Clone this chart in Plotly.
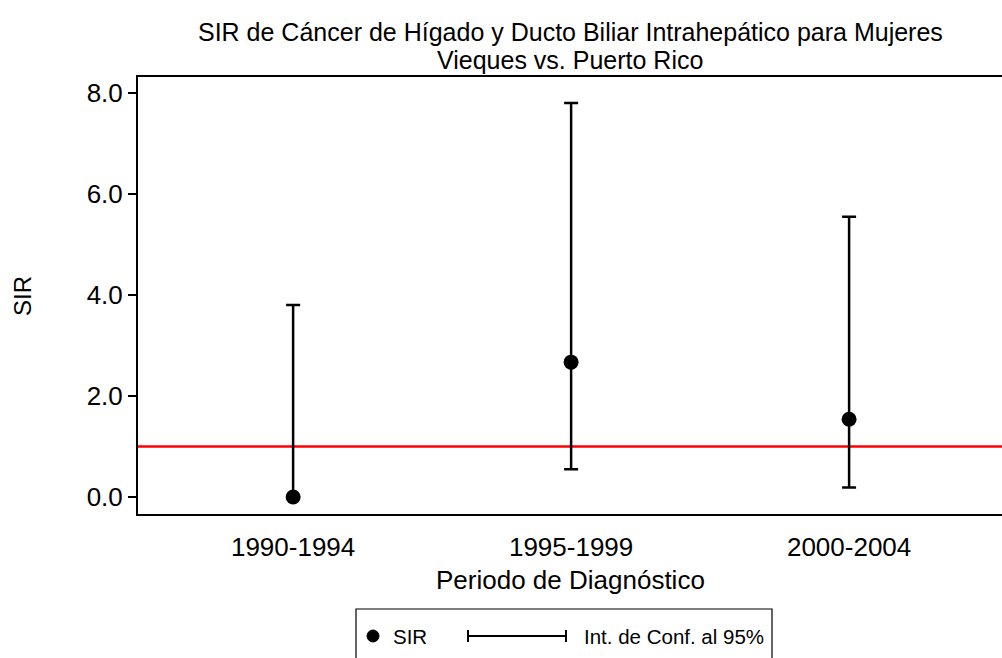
import plotly.graph_objects as go

# SIR por periodo de diagnóstico, con intervalos de confianza al 95%
periodos = ["1990-1994", "1995-1999", "2000-2004"]
sir = [0.0, 2.67, 1.54]
ic_inferior = [0.0, 0.55, 0.19]
ic_superior = [3.80, 7.80, 5.55]
referencia = 1.0

y_ticks = [0, 2, 4, 6, 8]
y_tick_text = ["0.0", "2.0", "4.0", "6.0", "8.0"]

FONT = "Liberation Sans, Arial, Helvetica, sans-serif"
W, H = 1002, 658
L, R, T, B = 138, 0, 77, 144
PW, PH = W - L - R, H - T - B


def px(x):
    return (x - L) / PW


def py(y):
    return (H - B - y) / PH


fig = go.Figure()

fig.add_trace(go.Scatter(
    x=periodos,
    y=sir,
    mode="markers",
    marker=dict(color="black", size=15),
    error_y=dict(
        type="data",
        symmetric=False,
        array=[u - s for u, s in zip(ic_superior, sir)],
        arrayminus=[s - l for s, l in zip(sir, ic_inferior)],
        color="black",
        thickness=2.5,
        width=7,
    ),
    showlegend=False,
))

shapes = [
    # línea de referencia SIR = 1
    dict(type="line", xref="paper", yref="y", x0=0, x1=1, y0=referencia, y1=referencia,
         line=dict(color="#ff0000", width=2.5), layer="below"),
    # recuadro de la leyenda
    dict(type="rect", xref="paper", yref="paper", x0=px(356), x1=px(772), y0=py(609), y1=py(664),
         line=dict(color="black", width=1.2), fillcolor="rgba(0,0,0,0)"),
    # símbolo del punto
    dict(type="circle", xref="paper", yref="paper", x0=px(367), x1=px(379), y0=py(630), y1=py(642),
         line=dict(color="black", width=1), fillcolor="black"),
    # símbolo del intervalo
    dict(type="line", xref="paper", yref="paper", x0=px(467), x1=px(567), y0=py(636), y1=py(636),
         line=dict(color="black", width=2)),
    dict(type="line", xref="paper", yref="paper", x0=px(468), x1=px(468), y0=py(630), y1=py(642),
         line=dict(color="black", width=2)),
    dict(type="line", xref="paper", yref="paper", x0=px(566), x1=px(566), y0=py(630), y1=py(642),
         line=dict(color="black", width=2)),
]

annotations = [
    dict(text="SIR de Cáncer de Hígado y Ducto Biliar Intrahepático para Mujeres",
         xref="paper", yref="paper", x=0.5, y=py(32), xanchor="center", yanchor="middle",
         showarrow=False, font=dict(size=25, color="black", family=FONT)),
    dict(text="Vieques vs. Puerto Rico",
         xref="paper", yref="paper", x=0.5, y=py(60), xanchor="center", yanchor="middle",
         showarrow=False, font=dict(size=25, color="black", family=FONT)),
    dict(text="Periodo de Diagnóstico",
         xref="paper", yref="paper", x=0.5, y=py(580), xanchor="center", yanchor="middle",
         showarrow=False, font=dict(size=26, color="black", family=FONT)),
    dict(text="SIR", textangle=-90,
         xref="paper", yref="paper", x=px(22), y=py(296), xanchor="center", yanchor="middle",
         showarrow=False, font=dict(size=24, color="black", family=FONT)),
    dict(text="SIR",
         xref="paper", yref="paper", x=px(391), y=py(636), xanchor="left", yanchor="middle",
         showarrow=False, font=dict(size=20.5, color="black", family=FONT)),
    dict(text="Int. de Conf. al 95%",
         xref="paper", yref="paper", x=px(582), y=py(636), xanchor="left", yanchor="middle",
         showarrow=False, font=dict(size=20.5, color="black", family=FONT)),
]

fig.update_layout(
    width=W,
    height=H,
    margin=dict(l=L, r=R, t=T, b=B, pad=0),
    paper_bgcolor="white",
    plot_bgcolor="white",
    font=dict(family=FONT, color="black", size=26),
    shapes=shapes,
    annotations=annotations,
    showlegend=False,
    xaxis=dict(
        type="category",
        range=[-0.558, 2.55],
        showline=True,
        linecolor="black",
        linewidth=2,
        mirror=True,
        ticks="outside",
        ticklen=9,
        tickcolor="rgba(0,0,0,0)",
        showgrid=False,
        zeroline=False,
        tickfont=dict(size=26, family=FONT, color="black"),
    ),
    yaxis=dict(
        range=[-0.337, 8.317],
        tickvals=y_ticks,
        ticktext=y_tick_text,
        showline=True,
        linecolor="black",
        linewidth=2,
        ticks="outside",
        ticklen=8,
        tickwidth=1.5,
        tickcolor="black",
        showgrid=False,
        zeroline=False,
        tickfont=dict(size=26, family=FONT, color="black"),
    ),
)

fig.write_html("out.html")
